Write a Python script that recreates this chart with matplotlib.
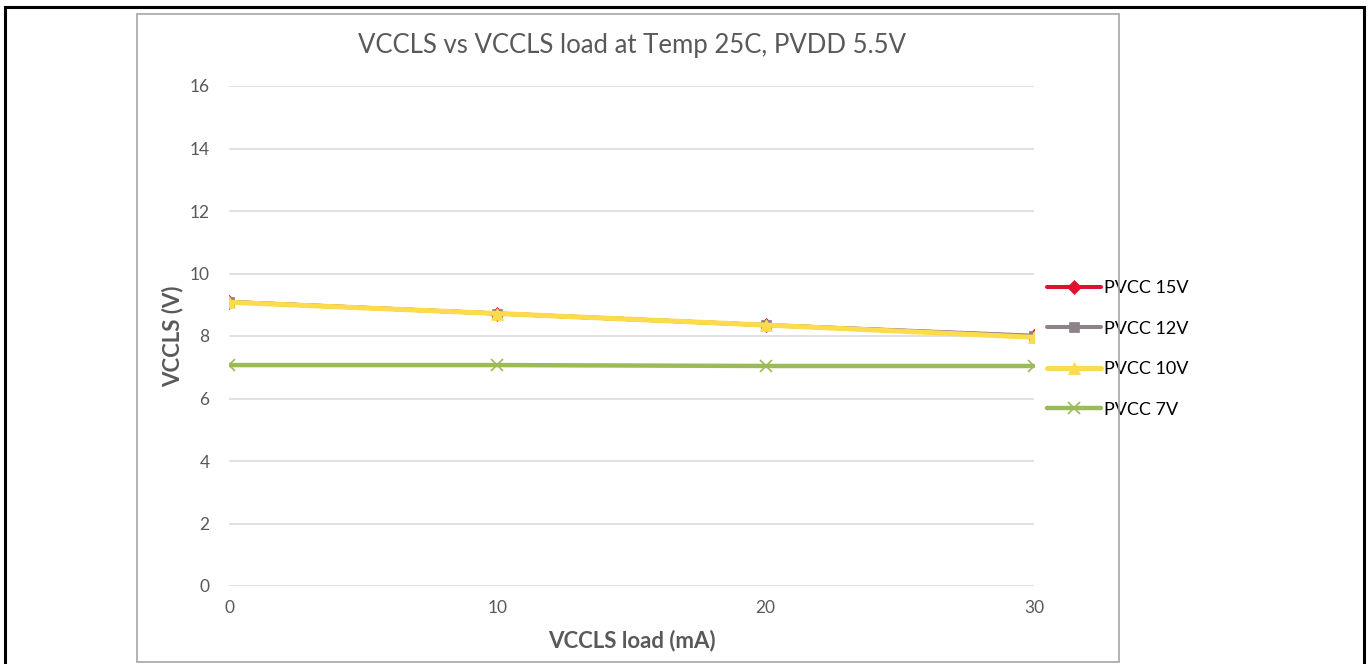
import matplotlib
matplotlib.use("Agg")
import matplotlib.pyplot as plt
from matplotlib.patches import Rectangle

# data
load_ma = [0, 10, 20, 30]
pvcc_15v = [9.09, 8.72, 8.35, 7.99]
pvcc_12v = [9.09, 8.72, 8.35, 8.01]
pvcc_10v = [9.08, 8.72, 8.35, 7.96]
pvcc_7v = [7.07, 7.07, 7.04, 7.04]

series = [
    ("PVCC 15V", pvcc_15v, "#E0102F", "D", 7, 2.9),
    ("PVCC 12V", pvcc_12v, "#8E8189", "s", 7, 2.9),
    ("PVCC 10V", pvcc_10v, "#FCDC4B", "^", 8, 3.6),
    ("PVCC 7V", pvcc_7v, "#9BBB59", "x", 9, 3.2),
]

plt.rcParams["font.family"] = ["Lato", "DejaVu Sans"]

fig = plt.figure(figsize=(13.68, 6.64), dpi=100)
W, H = 1368, 664

# outer black frame and inner grey chart frame
fig.patches.append(Rectangle((5 / W, -0.01), 1359 / W, 1 - 7 / H + 0.01,
                             transform=fig.transFigure, fill=False,
                             edgecolor="black", linewidth=2.2))
fig.patches.append(Rectangle((137 / W, 1 - 662 / H), (1119 - 137) / W, (662 - 14) / H,
                             transform=fig.transFigure, fill=False,
                             edgecolor="#A6A6A6", linewidth=1.2))

ax = fig.add_axes([229 / W, 1 - 586 / H, (1034 - 229) / W, (586 - 86) / H])

for name, vals, color, marker, ms, lw in series:
    ax.plot(load_ma, vals, color=color, linewidth=lw, marker=marker,
            markersize=ms, markeredgewidth=1.2 if marker == "x" else 0.5,
            label=name, solid_capstyle="round")

ax.set_xlim(0, 30)
ax.set_ylim(0, 16)
ax.set_xticks([0, 10, 20, 30])
ax.set_yticks(range(0, 17, 2))
ax.grid(True, axis="y", color="#D9D9D9", linewidth=1.1)
ax.set_axisbelow(True)
for s in ax.spines.values():
    s.set_visible(False)
ax.tick_params(length=0, labelsize=12.5, colors="#595959", pad=14)
ax.tick_params(axis="x", pad=10)

ax.set_title("VCCLS vs VCCLS load at Temp 25C, PVDD 5.5V", fontsize=18.5,
             color="#595959", pad=24)
ax.set_xlabel("VCCLS load (mA)", fontsize=16, fontweight="bold",
              color="#595959", labelpad=10)
ax.set_ylabel("VCCLS (V)", fontsize=16, fontweight="bold",
              color="#595959", labelpad=4)

ax.legend(loc="center left", bbox_to_anchor=(1.0, 0.474), frameon=False,
          fontsize=13, handlelength=3.0, labelspacing=1.35,
          borderaxespad=0.3, handletextpad=0.2)

fig.savefig("out.png", dpi=100)
